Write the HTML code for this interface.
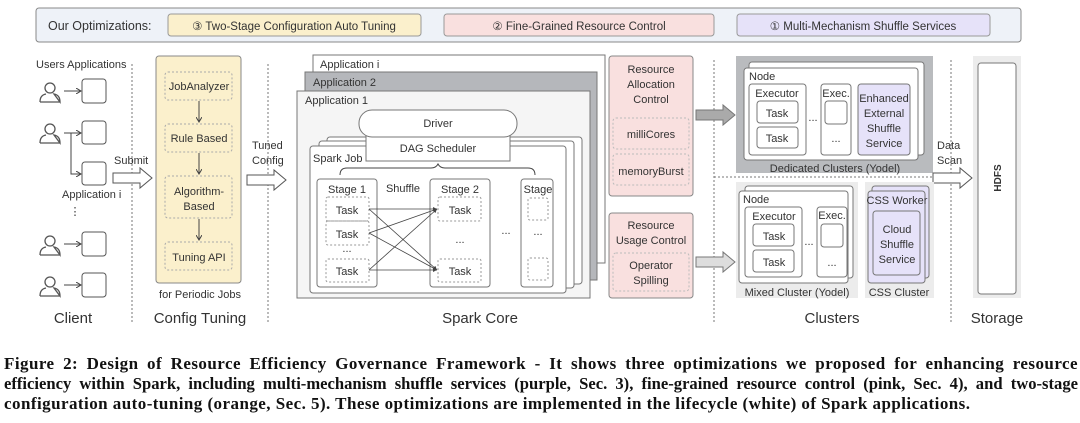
<!DOCTYPE html>
<html><head><meta charset="utf-8"><style>
body{margin:0;width:1080px;height:423px;background:#fff;overflow:hidden;position:relative}
svg{position:absolute;left:0;top:0}
svg text{font-family:"Liberation Sans",sans-serif;font-size:11px;fill:#333}
.cap{position:absolute;left:4px;width:1074px;font-family:"Liberation Serif",serif;font-weight:bold;font-size:17px;letter-spacing:0.45px;color:#111;white-space:nowrap;text-align:justify;text-align-last:justify;line-height:20px}
</style></head><body>
<svg width="1080" height="340" viewBox="0 0 1080 340">
<defs>
<marker id="ah" markerWidth="6" markerHeight="6" refX="5" refY="3" orient="auto"><path d="M0,0 L5,3 L0,6" fill="none" stroke="#444" stroke-width="1"/></marker>
<marker id="af" markerWidth="6" markerHeight="6" refX="5" refY="3" orient="auto"><path d="M0,0.5 L5,3 L0,5.5z" fill="#444"/></marker>
<g id="person"><circle cx="10" cy="-5" r="5" fill="none" stroke="#555" stroke-width="1.3"/><path d="M0,9 Q0,2 6,1 M14,1 Q20,2 20,9 Z M0,9 L20,9" fill="none" stroke="#555" stroke-width="1.3"/></g>
</defs>
<rect x="36" y="8" width="985" height="34" rx="3" fill="#eef2f8" stroke="#888"/>
<text x="48" y="30" style="font-size:12.5px">Our Optimizations:</text>
<rect x="168" y="14" width="253" height="22" rx="3" fill="#fbf0cc" stroke="#999"/>
<text x="294" y="30" text-anchor="middle" style="font-size:11.5px">③ Two-Stage Configuration Auto Tuning</text>
<rect x="444" y="14" width="270" height="22" rx="3" fill="#f9e0df" stroke="#999"/>
<text x="579" y="30" text-anchor="middle" style="font-size:11.5px">② Fine-Grained Resource Control</text>
<rect x="737" y="14" width="253" height="22" rx="3" fill="#e6e2f9" stroke="#999"/>
<text x="863" y="30" text-anchor="middle" style="font-size:11.5px">① Multi-Mechanism Shuffle Services</text>

<text x="36" y="68">Users Applications</text>
<g stroke="#555" stroke-width="1" fill="#fff">
<rect x="82" y="79" width="24" height="24" rx="3"/><rect x="82" y="121" width="24" height="23" rx="3"/><rect x="82" y="162" width="24" height="23" rx="3"/><rect x="82" y="232" width="24" height="24" rx="3"/><rect x="82" y="273" width="24" height="24" rx="3"/>
</g>
<use href="#person" x="40" y="93"/><use href="#person" x="40" y="134"/><use href="#person" x="40" y="246"/><use href="#person" x="40" y="287"/>
<g stroke="#444" fill="none" marker-end="url(#ah)">
<line x1="64" y1="91" x2="81" y2="91"/><line x1="64" y1="133" x2="81" y2="133"/><line x1="64" y1="244" x2="81" y2="244"/><line x1="64" y1="285" x2="81" y2="285"/>
<path d="M71,133 L71,174 L81,174"/>
</g>
<text x="62" y="198">Application i</text>
<text x="75" y="215" text-anchor="middle">⋮</text>
<line x1="132" y1="64" x2="132" y2="323" stroke="#777" stroke-dasharray="2,2"/>
<text x="114" y="164">Submit</text>
<path d="M113,173 H140 V168 L152,178 L140,188 V183 H113Z" fill="#fff" stroke="#555"/>
<text x="73" y="323" text-anchor="middle" style="font-size:15px">Client</text>

<rect x="156" y="56" width="85" height="227" rx="3" fill="#fbf0cc" stroke="#888"/>
<g fill="none" stroke="#aaa" stroke-dasharray="2,2">
<rect x="165" y="72" width="67" height="28" rx="3"/><rect x="165" y="124" width="67" height="28" rx="3"/><rect x="165" y="176" width="67" height="42" rx="3"/><rect x="165" y="242" width="67" height="28" rx="3"/>
</g>
<g stroke="#444" marker-end="url(#ah)"><line x1="199" y1="101" x2="199" y2="122"/><line x1="199" y1="153" x2="199" y2="174"/><line x1="199" y1="219" x2="199" y2="240"/></g>
<g text-anchor="middle"><text x="199" y="90">JobAnalyzer</text><text x="199" y="142">Rule Based</text><text x="199" y="195">Algorithm-</text><text x="199" y="210">Based</text><text x="199" y="261">Tuning API</text>
<text x="200" y="298">for Periodic Jobs</text><text x="200" y="323" style="font-size:15px">Config Tuning</text></g>
<line x1="268" y1="64" x2="268" y2="323" stroke="#777" stroke-dasharray="2,2"/>
<text x="252" y="149">Tuned</text><text x="252" y="164">Config</text>
<path d="M247,175 H274 V170 L286,180 L274,190 V185 H247Z" fill="#fff" stroke="#555"/>

<rect x="313" y="55" width="292" height="208" fill="#fff" stroke="#777"/>
<text x="320" y="68">Application i</text>
<rect x="305" y="72" width="292" height="208" fill="#b5b7bb" stroke="#777"/>
<text x="313" y="86">Application 2</text>
<rect x="297" y="91" width="293" height="207" fill="#f5f5f5" stroke="#777"/>
<text x="305" y="104">Application 1</text>
<rect x="327" y="137" width="255" height="147" rx="3" fill="#fff" stroke="#777"/>
<rect x="319" y="141" width="255" height="147" rx="3" fill="#fff" stroke="#777"/>
<rect x="310" y="146" width="256" height="147" rx="3" fill="#fff" stroke="#777"/>
<text x="313" y="162">Spark Job</text>
<rect x="366" y="135" width="144" height="26" fill="#fff" stroke="#777"/>
<text x="438" y="152" text-anchor="middle">DAG Scheduler</text>
<rect x="359" y="110" width="158" height="27" rx="13" fill="#fff" stroke="#777"/>
<text x="438" y="127" text-anchor="middle">Driver</text>
<path d="M340,175 Q340,168 347,168 L431,168 Q436,168 438,164 Q440,168 445,168 L528,168 Q535,168 535,175" fill="none" stroke="#444"/>
<g fill="#fff" stroke="#777"><rect x="317" y="179" width="60" height="108" rx="3"/><rect x="430" y="179" width="60" height="108" rx="3"/><rect x="521" y="179" width="32" height="108" rx="3"/></g>
<g fill="none" stroke="#999" stroke-dasharray="2,2">
<rect x="326" y="197" width="43" height="24" rx="2"/><rect x="326" y="221" width="43" height="24" rx="2"/><rect x="326" y="259" width="43" height="23" rx="2"/>
<rect x="438" y="197" width="43" height="24" rx="2"/><rect x="438" y="259" width="43" height="23" rx="2"/>
<rect x="528" y="198" width="20" height="22" rx="2"/><rect x="528" y="258" width="20" height="22" rx="2"/>
</g>
<g text-anchor="middle"><text x="347" y="193">Stage 1</text><text x="460" y="193">Stage 2</text><text x="538" y="193">Stage</text>
<text x="347" y="214">Task</text><text x="347" y="238">Task</text><text x="347" y="252">...</text><text x="347" y="275">Task</text>
<text x="460" y="214">Task</text><text x="460" y="243">...</text><text x="460" y="275">Task</text>
<text x="538" y="235">...</text><text x="506" y="234">...</text>
<text x="403" y="192">Shuffle</text>
<text x="480" y="323" style="font-size:15px">Spark Core</text></g>
<g stroke="#444" stroke-width="0.8" marker-end="url(#af)">
<line x1="369" y1="209" x2="437" y2="209"/><line x1="369" y1="209" x2="437" y2="270"/>
<line x1="369" y1="233" x2="437" y2="209"/><line x1="369" y1="233" x2="437" y2="270"/>
<line x1="369" y1="270" x2="437" y2="209"/><line x1="369" y1="270" x2="437" y2="270"/>
</g>

<rect x="609" y="56" width="84" height="140" rx="3" fill="#f9e0df" stroke="#888"/>
<rect x="609" y="213" width="84" height="85" rx="3" fill="#f9e0df" stroke="#888"/>
<g fill="none" stroke="#bbb" stroke-dasharray="2,2"><rect x="613" y="118" width="76" height="31" rx="3"/><rect x="613" y="154" width="76" height="31" rx="3"/><rect x="613" y="253" width="76" height="38" rx="3"/></g>
<g text-anchor="middle"><text x="651" y="73">Resource</text><text x="651" y="88">Allocation</text><text x="651" y="103">Control</text>
<text x="651" y="138">milliCores</text><text x="651" y="175">memoryBurst</text>
<text x="651" y="229">Resource</text><text x="651" y="244">Usage Control</text><text x="651" y="269">Operator</text><text x="651" y="284">Spilling</text></g>
<line x1="714" y1="60" x2="714" y2="323" stroke="#777" stroke-dasharray="2,2"/>
<path d="M696,110 H723 V105 L735,115 L723,125 V120 H696Z" fill="#aaa" stroke="#777"/>
<path d="M696,257 H723 V252 L735,262 L723,272 V267 H696Z" fill="#ddd" stroke="#777"/>

<rect x="736" y="56" width="197" height="117" fill="#b9bbbe"/>
<rect x="749" y="62" width="175" height="93" rx="3" fill="#fff" stroke="#777"/>
<rect x="744" y="68" width="174" height="92" rx="3" fill="#fff" stroke="#777"/>
<text x="749" y="80">Node</text>
<g fill="#fff" stroke="#777"><rect x="749" y="84" width="57" height="71" rx="3"/><rect x="821" y="84" width="30" height="71" rx="3"/>
<rect x="757" y="101" width="41" height="22" rx="3"/><rect x="757" y="127" width="41" height="21" rx="3"/><rect x="825" y="101" width="22" height="23" rx="3"/></g>
<rect x="858" y="84" width="52" height="71" rx="3" fill="#e6e2f9" stroke="#777"/>
<g text-anchor="middle"><text x="777" y="97">Executor</text><text x="777" y="117">Task</text><text x="777" y="142">Task</text><text x="813" y="121">...</text>
<text x="836" y="97">Exec.</text><text x="836" y="142">...</text>
<text x="884" y="102">Enhanced</text><text x="884" y="117">External</text><text x="884" y="132">Shuffle</text><text x="884" y="147">Service</text>
<text x="835" y="172">Dedicated Clusters (Yodel)</text></g>
<line x1="714" y1="177" x2="933" y2="177" stroke="#777" stroke-dasharray="2,2"/>
<line x1="951" y1="60" x2="951" y2="323" stroke="#777" stroke-dasharray="2,2"/>
<text x="937" y="149">Data</text><text x="937" y="164">Scan</text>
<path d="M933,173 H960 V168 L972,178 L960,188 V183 H933Z" fill="#fff" stroke="#555"/>

<rect x="736" y="182" width="122" height="116" fill="#ececec"/>
<rect x="745" y="186" width="108" height="92" rx="3" fill="#fff" stroke="#777"/>
<rect x="739" y="191" width="109" height="92" rx="3" fill="#fff" stroke="#777"/>
<text x="743" y="203">Node</text>
<g fill="#fff" stroke="#777"><rect x="745" y="207" width="57" height="70" rx="3"/><rect x="817" y="207" width="30" height="70" rx="3"/>
<rect x="753" y="224" width="41" height="22" rx="3"/><rect x="753" y="250" width="41" height="22" rx="3"/><rect x="821" y="224" width="22" height="23" rx="3"/></g>
<g text-anchor="middle"><text x="774" y="220">Executor</text><text x="774" y="240">Task</text><text x="774" y="266">Task</text><text x="809" y="245">...</text>
<text x="832" y="219">Exec.</text><text x="832" y="266">...</text>
<text x="797" y="296">Mixed Cluster (Yodel)</text></g>
<rect x="865" y="182" width="69" height="116" fill="#ececec"/>
<rect x="872" y="186" width="57" height="92" rx="3" fill="#e6e2f9" stroke="#777"/>
<rect x="868" y="191" width="57" height="92" rx="3" fill="#e6e2f9" stroke="#777"/>
<rect x="873" y="211" width="47" height="64" rx="3" fill="#e6e2f9" stroke="#777"/>
<g text-anchor="middle"><text x="897" y="204">CSS Worker</text><text x="897" y="233">Cloud</text><text x="897" y="248">Shuffle</text><text x="897" y="263">Service</text>
<text x="899" y="296">CSS Cluster</text>
<text x="832" y="323" style="font-size:15px">Clusters</text><text x="997" y="323" style="font-size:15px">Storage</text></g>

<rect x="973" y="56" width="48" height="242" fill="#ececec"/>
<rect x="978" y="63" width="38" height="231" rx="3" fill="#fff" stroke="#777"/>
<text x="0" y="0" transform="translate(1001,178) rotate(-90)" text-anchor="middle" style="font-weight:bold;font-size:10px">HDFS</text>
</svg>
<div class="cap" style="top:354px">Figure 2: Design of Resource Efficiency Governance Framework - It shows three optimizations we proposed for enhancing resource</div>
<div class="cap" style="top:374px;letter-spacing:0;font-size:16.6px">efficiency within Spark, including multi-mechanism shuffle services (purple, Sec. 3), fine-grained resource control (pink, Sec. 4), and two-stage</div>
<div class="cap" style="top:394px;text-align-last:left">configuration auto-tuning (orange, Sec. 5). These optimizations are implemented in the lifecycle (white) of Spark applications.</div>
</body></html>
